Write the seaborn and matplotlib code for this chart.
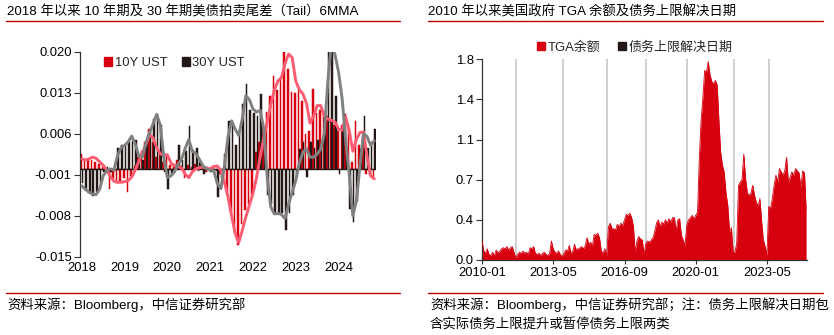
import pandas as pd
import matplotlib
matplotlib.use("Agg")
import matplotlib.pyplot as plt
import seaborn as sns
from matplotlib.patches import Patch
from matplotlib.lines import Line2D

# ---------------- data ----------------
# Monthly auction tails (bars) and their 6-month moving averages (lines), 2018-01 .. 2024-11
tail_10y = [
    0.0026, 0.0015, 0.0017, 0.0015, 0.0012, 0.0008, 0.0004, -0.0005, -0.0034, -0.0018, -0.0025, -0.0022,
    -0.0016, -0.0040, -0.0012, 0.0005, 0.0020, 0.0030, 0.0045, 0.0068, 0.0045, 0.0020, 0.0030, 0.0012,
    0.0025, 0.0006, 0.0008, 0.0015, 0.0005, -0.0015, 0.0006, 0.0003, 0.0008, -0.0003, 0.0004, -0.0005,
    0.0002, 0.0005, -0.0003, -0.0008, -0.0025, -0.0040, -0.0074, -0.0102, -0.0130, -0.0095, -0.0070, -0.0060,
    -0.0045, 0.0028, 0.0045, 0.0074, 0.0097, 0.0125, 0.0159, 0.0135, 0.0155, 0.0199, 0.0171, 0.0131,
    0.0130, 0.0135, 0.0115, 0.0060, 0.0065, 0.0137, 0.0095, 0.0100, 0.0098, 0.0090, 0.0085, 0.0075,
    0.0065, 0.0075, 0.0094, 0.0070, 0.0011, 0.0082, 0.0040, 0.0055, -0.0008, -0.0011, -0.0017,
]
tail_30y = [
    -0.0025, -0.0035, -0.0040, -0.0046, -0.0040, -0.0025, -0.0005, 0.0003, -0.0005, -0.0003, 0.0035, 0.0040,
    0.0043, 0.0045, 0.0048, 0.0050, 0.0020, 0.0015, 0.0045, 0.0065, 0.0085, 0.0094, 0.0075, -0.0005,
    -0.0034, -0.0010, 0.0005, 0.0040, 0.0015, 0.0030, 0.0074, 0.0032, 0.0035, 0.0012, -0.0009, 0.0003,
    -0.0005, -0.0003, -0.0048, -0.0015, 0.0025, 0.0082, 0.0082, 0.0040, 0.0065, 0.0111, 0.0145, 0.0100,
    0.0095, 0.0090, 0.0128, 0.0068, -0.0045, -0.0060, -0.0077, -0.0077, -0.0075, -0.0105, -0.0075, -0.0045,
    -0.0015, 0.0034, 0.0045, -0.0014, 0.0045, 0.0035, 0.0050, 0.0040, 0.0085, 0.0220, 0.0220, 0.0125,
    -0.0008, 0.0070, 0.0025, -0.0068, -0.0091, -0.0055, 0.0034, 0.0091, 0.0035, 0.0045, 0.0068,
]
ma_10y = [
    0.0017, 0.0015, 0.0017, 0.0020, 0.0018, 0.0012, 0.0006, -0.0002, -0.0013, -0.0021, -0.0023, -0.0023,
    -0.0022, -0.0020, -0.0014, -0.0002, 0.0013, 0.0028, 0.0042, 0.0058, 0.0053, 0.0036, 0.0026, 0.0023,
    0.0024, 0.0010, 0.0005, 0.0004, 0.0001, -0.0009, -0.0015, -0.0005, 0.0000, 0.0002, 0.0003, 0.0001,
    0.0000, 0.0004, 0.0005, -0.0003, -0.0023, -0.0048, -0.0080, -0.0110, -0.0126, -0.0105, -0.0082, -0.0062,
    -0.0042, -0.0015, 0.0020, 0.0052, 0.0080, 0.0110, 0.0135, 0.0150, 0.0156, 0.0180, 0.0196, 0.0190,
    0.0150, 0.0135, 0.0128, 0.0112, 0.0078, 0.0090, 0.0108, 0.0108, 0.0090, 0.0085, 0.0083, 0.0080,
    0.0068, 0.0066, 0.0088, 0.0065, 0.0030, 0.0050, 0.0062, 0.0063, 0.0020, -0.0012, -0.0017,
]
ma_30y = [
    -0.0029, -0.0035, -0.0040, -0.0043, -0.0044, -0.0035, -0.0012, -0.0003, 0.0000, -0.0002, 0.0022, 0.0036,
    0.0040, 0.0046, 0.0056, 0.0042, 0.0022, 0.0020, 0.0045, 0.0062, 0.0077, 0.0093, 0.0075, 0.0020,
    -0.0015, -0.0012, -0.0005, 0.0008, 0.0017, 0.0035, 0.0050, 0.0030, 0.0026, 0.0016, 0.0005, 0.0000,
    -0.0002, -0.0003, -0.0025, -0.0034, 0.0005, 0.0055, 0.0082, 0.0068, 0.0057, 0.0085, 0.0125, 0.0118,
    0.0102, 0.0097, 0.0100, 0.0070, -0.0015, -0.0065, -0.0077, -0.0076, -0.0078, -0.0085, -0.0060, -0.0040,
    -0.0020, 0.0010, 0.0028, 0.0034, 0.0020, 0.0020, 0.0025, 0.0034, 0.0060, 0.0150, 0.0215, 0.0195,
    0.0165, 0.0120, 0.0050, -0.0010, -0.0080, -0.0055, 0.0005, 0.0060, 0.0055, 0.0040, 0.0048,
]
year_labels = ["2018", "2019", "2020", "2021", "2022", "2023", "2024"]

# Month-end TGA balance (USD trillion), 2010-01 .. 2025-03
tga = [
    0.17, 0.08, 0.06, 0.10, 0.05, 0.04, 0.07, 0.04, 0.09, 0.06, 0.08, 0.10,
    0.11, 0.10, 0.12, 0.09, 0.11, 0.12, 0.07, 0.02, 0.05, 0.07, 0.06, 0.08,
    0.06, 0.07, 0.05, 0.11, 0.10, 0.12, 0.06, 0.05, 0.06, 0.04, 0.06, 0.07,
    0.05, 0.04, 0.06, 0.17, 0.10, 0.07, 0.06, 0.08, 0.05, 0.03, 0.06, 0.09,
    0.08, 0.13, 0.06, 0.08, 0.14, 0.09, 0.10, 0.11, 0.12, 0.10, 0.13, 0.20,
    0.14, 0.16, 0.12, 0.23, 0.22, 0.24, 0.20, 0.08, 0.06, 0.10, 0.04, 0.30,
    0.33, 0.28, 0.28, 0.27, 0.32, 0.30, 0.33, 0.31, 0.36, 0.41, 0.40, 0.42,
    0.38, 0.30, 0.07, 0.17, 0.21, 0.19, 0.18, 0.05, 0.15, 0.17, 0.16, 0.18,
    0.20, 0.26, 0.33, 0.36, 0.30, 0.34, 0.32, 0.36, 0.33, 0.37, 0.34, 0.38,
    0.38, 0.26, 0.36, 0.37, 0.22, 0.18, 0.13, 0.32, 0.36, 0.38, 0.40, 0.37,
    0.40, 0.43, 0.90, 1.25, 1.45, 1.70, 1.68, 1.78, 1.66, 1.60, 1.58, 1.61,
    1.57, 1.24, 0.97, 0.85, 0.79, 0.60, 0.49, 0.25, 0.29, 0.07, 0.07, 0.15,
    0.67, 0.70, 0.72, 0.95, 0.73, 0.60, 0.58, 0.60, 0.67, 0.58, 0.52, 0.48,
    0.55, 0.34, 0.18, 0.12, 0.04, 0.48, 0.46, 0.55, 0.67, 0.76, 0.70, 0.82,
    0.79, 0.76, 0.80, 0.92, 0.70, 0.74, 0.79, 0.76, 0.82, 0.80, 0.78, 0.65,
    0.80, 0.78, 0.45,
]
debt_limit_dates = ["2011-08-02", "2013-10-17", "2015-11-02", "2017-09-08",
                    "2019-08-02", "2021-10-14", "2023-06-03"]
tga_ticks = ["2010-01", "2013-05", "2016-09", "2020-01", "2023-05"]

# ---------------- style ----------------
RED = "#D7000F"
BLACK = "#231815"
PINK = "#FF5C72"
GRAY = "#808080"
LINE_RED = "#C00000"
TICK_FS = 9.4
NOTE_FS = 9.6

sns.set_theme(style="white")
plt.rcParams["font.family"] = ["Liberation Sans", "Noto Sans CJK SC", "DejaVu Sans"]
plt.rcParams["axes.unicode_minus"] = False

fig = plt.figure(figsize=(8.34, 3.35), dpi=100)
W, H = 834, 335


def axes_px(x0, x1, y_top, y_bot):
    return fig.add_axes([x0 / W, 1 - y_bot / H, (x1 - x0) / W, (y_bot - y_top) / H])


# ---------------- left: auction tails ----------------
ax1 = axes_px(80, 376, 51.7, 256.7)
n = len(tail_10y)
month_keys = pd.date_range("2018-01-01", periods=n, freq="MS").strftime("%Y-%m").tolist()

bars = pd.DataFrame({
    "month": month_keys * 2,
    "tail": tail_10y + tail_30y,
    "series": ["10Y UST"] * n + ["30Y UST"] * n,
})
sns.barplot(data=bars, x="month", y="tail", hue="series", palette=[RED, BLACK],
            width=0.9, saturation=1, errorbar=None, linewidth=0.35,
            legend=False, ax=ax1)
# outline each bar in its own fill colour so the thin bars read solid
for bar in ax1.patches:
    bar.set_edgecolor(bar.get_facecolor())

ax1.axhline(0, color=BLACK, lw=1.0, zorder=3)

lines = pd.DataFrame({
    "month": month_keys * 2,
    "ma": ma_10y + ma_30y,
    "series": ["10Y"] * n + ["30Y"] * n,
})
sns.lineplot(data=lines, x="month", y="ma", hue="series", palette=[PINK, GRAY],
             lw=2.1, legend=False, ax=ax1, zorder=4)

ax1.set_xlim(-0.5, n - 0.5)
ax1.set_ylim(-0.015, 0.020)
ax1.set_yticks([-0.015, -0.008, -0.001, 0.006, 0.013, 0.020])
ax1.set_yticklabels([f"{v:.3f}" for v in ax1.get_yticks()])
ax1.set_xticks(range(0, n, 12))
ax1.set_xticklabels(year_labels)
ax1.set_xlabel("")
ax1.set_ylabel("")
for s in ["top", "right", "bottom"]:
    ax1.spines[s].set_visible(False)
ax1.spines["left"].set_color("#333333")
ax1.spines["left"].set_linewidth(0.9)
ax1.tick_params(axis="y", which="major", direction="out", length=4, width=0.8,
                color="#333333", labelsize=TICK_FS, labelcolor="black", pad=2, left=True)
ax1.tick_params(axis="x", length=0, labelsize=TICK_FS, labelcolor="black", pad=4)

ax1.legend(handles=[Patch(color=RED, label="10Y UST"), Patch(color=BLACK, label="30Y UST")],
           loc="center left", bbox_to_anchor=(0.065, 0.945), ncol=2, frameon=False,
           handlelength=0.6, handleheight=0.6, handletextpad=0.2, columnspacing=1.1,
           fontsize=TICK_FS, borderaxespad=0)

# ---------------- right: TGA balance ----------------
ax2 = axes_px(482, 807, 59.3, 260)
tga_dates = pd.date_range("2010-01-01", periods=len(tga), freq="MS")
tga_df = pd.DataFrame({"date": tga_dates, "tga": tga})

for d in debt_limit_dates:
    ax2.axvline(pd.Timestamp(d), color="#CCCCCC", lw=1.3, zorder=1)

ax2.fill_between(tga_df["date"], tga_df["tga"], 0, color=RED, lw=0, zorder=2)
sns.lineplot(data=tga_df, x="date", y="tga", color=RED, lw=0.6, ax=ax2, zorder=3)

ax2.set_xlim(pd.Timestamp("2010-01-01"), pd.Timestamp("2025-03-16"))
ax2.set_ylim(0, 1.8)
ax2.set_yticks([0, 0.36, 0.72, 1.08, 1.44, 1.8])
ax2.set_yticklabels([f"{v:.1f}" for v in ax2.get_yticks()])
ax2.set_xticks([pd.Timestamp(t + "-01") for t in tga_ticks])
ax2.set_xticklabels(tga_ticks)
ax2.set_xlabel("")
ax2.set_ylabel("")
for s in ["top", "right"]:
    ax2.spines[s].set_visible(False)
for s in ["left", "bottom"]:
    ax2.spines[s].set_color("#333333")
    ax2.spines[s].set_linewidth(0.9)
ax2.tick_params(axis="y", direction="out", length=4, width=0.8, color="#333333",
                labelsize=TICK_FS, labelcolor="black", pad=2, left=True)
ax2.tick_params(axis="x", direction="out", length=3, width=0.8, color="#333333",
                labelsize=TICK_FS, labelcolor="black", pad=2, bottom=True)

ax2.legend(handles=[Patch(color=RED, label="TGA余额"), Patch(color=BLACK, label="债务上限解决日期")],
           loc="center", bbox_to_anchor=(0.47, 1.06), ncol=2, frameon=False,
           handlelength=0.6, handleheight=0.6, handletextpad=0.2, columnspacing=1.4,
           fontsize=TICK_FS, borderaxespad=0)

# ---------------- titles, rules, notes ----------------
fig.text(7 / W, 1 - 12 / H, "2018 年以来 10 年期及 30 年期美债拍卖尾差（Tail）6MMA",
         fontsize=9.6, va="center", ha="left", color="black")
fig.text(428 / W, 1 - 12 / H, "2010 年以来美国政府 TGA 余额及债务上限解决日期",
         fontsize=9.6, va="center", ha="left", color="black")
for x0, x1 in [(6, 400), (428, 823)]:
    fig.add_artist(Line2D([x0 / W, x1 / W], [1 - 20.5 / H] * 2, color=LINE_RED, lw=1.0))
    fig.add_artist(Line2D([x0 / W, x1 / W], [1 - 293 / H] * 2, color=LINE_RED, lw=1.0))

fig.text(7 / W, 1 - 305 / H, "资料来源：Bloomberg，中信证券研究部",
         fontsize=NOTE_FS, va="center", ha="left", color="black")
fig.text(430 / W, 1 - 305 / H, "资料来源：Bloomberg，中信证券研究部；注：债务上限解决日期包",
         fontsize=NOTE_FS, va="center", ha="left", color="black")
fig.text(430 / W, 1 - 325 / H, "含实际债务上限提升或暂停债务上限两类",
         fontsize=NOTE_FS, va="center", ha="left", color="black")

fig.savefig("out.png", dpi=100)
